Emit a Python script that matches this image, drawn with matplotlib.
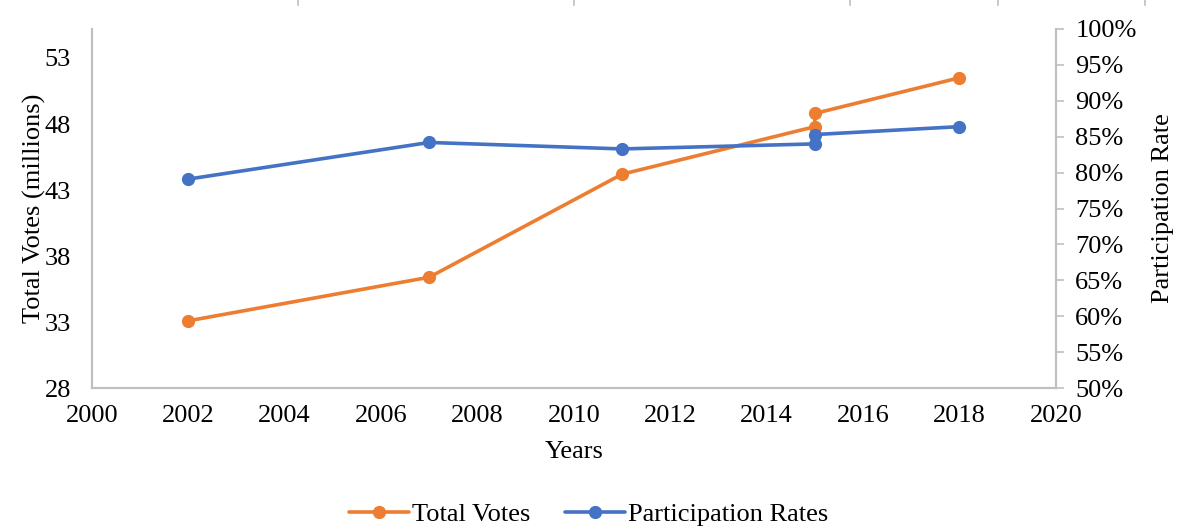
import matplotlib
matplotlib.use("Agg")
import matplotlib.pyplot as plt
from matplotlib.ticker import PercentFormatter
from matplotlib.lines import Line2D

# election years (two elections in 2015)
years = [2002, 2007, 2011, 2015, 2015, 2018]
total_votes = [33.1, 36.4, 44.2, 47.8, 48.8, 51.5]       # millions
participation = [79.1, 84.2, 83.3, 84.0, 85.3, 86.4]    # percent

left_ticks = [28, 33, 38, 43, 48, 53]
right_ticks = list(range(50, 101, 5))
x_ticks = list(range(2000, 2021, 2))

orange = "#ED7D31"
blue = "#4472C4"
grey = "#BFBFBF"

plt.rcParams["font.family"] = ["Liberation Serif", "DejaVu Serif"]
plt.rcParams["font.size"] = 19

fig = plt.figure(figsize=(11.77, 5.26), dpi=100)
ax = fig.add_axes([0.078, 0.262, 0.819, 0.683])
ax2 = ax.twinx()

style = dict(lw=2.6, marker="o", ms=8.5, solid_capstyle="round")
ax.plot(years, total_votes, color=orange, zorder=3, **style)
ax2.plot(years, participation, color=blue, zorder=3, **style)

ax.set_xlim(2000, 2020)
ax.set_xticks(x_ticks)
ax.set_ylim(28, 55.2)
ax.set_yticks(left_ticks)
ax2.set_ylim(50, 100)
ax2.set_yticks(right_ticks)
ax2.yaxis.set_major_formatter(PercentFormatter(decimals=0))

for a in (ax, ax2):
    a.spines["top"].set_visible(False)
    for s in ("left", "right", "bottom"):
        a.spines[s].set_color(grey)
        a.spines[s].set_linewidth(1.5)
ax.tick_params(axis="y", length=0, pad=15)
ax.tick_params(axis="x", length=0, pad=12)
ax2.tick_params(axis="y", length=6, width=1.2, color=grey, pad=8)

ax.set_xlabel("Years", labelpad=10)
ax.set_ylabel("Total Votes (millions)", labelpad=-1)
ax2.set_ylabel("Participation Rate", labelpad=11)

handles = [Line2D([], [], color=orange, **style),
           Line2D([], [], color=blue, **style)]
fig.legend(handles, ["Total Votes", "Participation Rates"], loc="lower center",
           bbox_to_anchor=(0.5, -0.045), ncol=2, frameon=False,
           handlelength=2.3, handletextpad=0.1, columnspacing=1.3)

# small marks left along the top edge
for xf in [298, 574, 850, 998, 1145]:
    fig.add_artist(Line2D([xf / 1177, xf / 1177], [1.0, 0.99], color=grey, lw=1.2))

fig.savefig("out.png", dpi=100)
